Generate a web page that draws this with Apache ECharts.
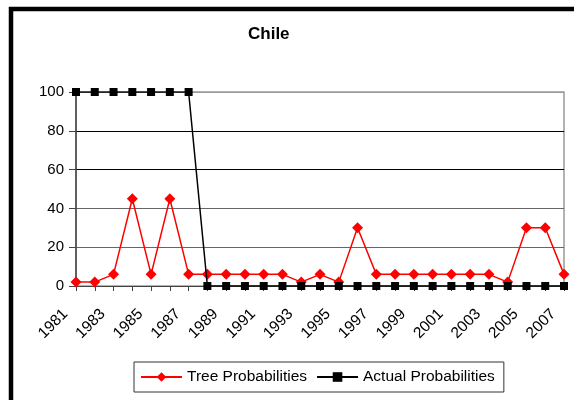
<!DOCTYPE html>
<html>
<head>
<meta charset="utf-8">
<script src="https://cdn.jsdelivr.net/npm/echarts@6/dist/echarts.min.js"></script>
<style>
  html, body { margin: 0; padding: 0; background: #fff; }
  #chart { width: 574px; height: 400px; }
</style>
</head>
<body>
<div id="chart"></div>
<script>
// Years on the horizontal axis
var years = ['1981','1982','1983','1984','1985','1986','1987','1988','1989','1990',
             '1991','1992','1993','1994','1995','1996','1997','1998','1999','2000',
             '2001','2002','2003','2004','2005','2006','2007'];

// Probability estimates from the decision tree
var treeProbabilities = [2, 2, 6, 45, 6, 45, 6, 6, 6, 6,
                         6, 6, 2, 6, 2, 30, 6, 6, 6, 6,
                         6, 6, 6, 2, 30, 30, 6];

// Observed outcome (100 = event, 0 = no event)
var actualProbabilities = [100, 100, 100, 100, 100, 100, 100, 0, 0, 0,
                           0, 0, 0, 0, 0, 0, 0, 0, 0, 0,
                           0, 0, 0, 0, 0, 0, 0];

var yTicks = [0, 20, 40, 60, 80, 100];

var FONT = '"Liberation Sans", Arial, sans-serif';

var chart = echarts.init(document.getElementById('chart'), null, { renderer: 'canvas' });

chart.setOption({
  animation: false,
  backgroundColor: '#fff',
  title: {
    text: 'Chile',
    left: 248,
    top: 26,
    padding: 0,
    textStyle: { fontFamily: FONT, fontSize: 17, fontWeight: 'bold', color: '#000' }
  },
  grid: {
    left: 76,
    right: 10,
    top: 92,
    bottom: 114,
    show: true,
    borderColor: '#999',
    borderWidth: 1.5,
    backgroundColor: 'transparent'
  },
  legend: {
    left: 134,
    top: 362,
    orient: 'horizontal',
    padding: [7, 9, 7, 6],
    itemGap: 9,
    itemWidth: 41,
    itemHeight: 12,
    borderColor: '#333',
    borderWidth: 1,
    textStyle: { fontFamily: FONT, fontSize: 15.5, color: '#000' },
    data: ['Tree Probabilities', 'Actual Probabilities']
  },
  xAxis: {
    type: 'category',
    data: years,
    boundaryGap: false,
    axisLine: { show: true, lineStyle: { color: '#444', width: 1 } },
    axisTick: { show: true, interval: 0, length: 5, lineStyle: { color: '#444' } },
    axisLabel: {
      interval: 1,
      rotate: 45,
      margin: 15,
      padding: [0, 15, 0, 0],
      fontFamily: FONT,
      fontSize: 15.5,
      color: '#000'
    },
    splitLine: { show: false }
  },
  yAxis: {
    type: 'value',
    min: yTicks[0],
    max: yTicks[yTicks.length - 1],
    interval: 20,
    axisLine: { show: true, lineStyle: { color: '#444', width: 1.5 } },
    axisTick: { show: true, length: 7, lineStyle: { color: '#444' } },
    axisLabel: { margin: 12, fontFamily: FONT, fontSize: 15, color: '#000' },
    splitLine: { show: true, lineStyle: { color: ['#000', '#666', '#666', '#000', '#000', '#999'], width: 1 } }
  },
  series: [
    {
      name: 'Tree Probabilities',
      type: 'line',
      data: treeProbabilities,
      symbol: 'diamond',
      symbolSize: 11,
      showAllSymbol: true,
      lineStyle: { color: '#ff0000', width: 1.5 },
      itemStyle: { color: '#ff0000' },
      z: 3
    },
    {
      name: 'Actual Probabilities',
      type: 'line',
      data: actualProbabilities,
      symbol: 'rect',
      symbolSize: 8,
      showAllSymbol: true,
      lineStyle: { color: '#000', width: 1.5 },
      itemStyle: { color: '#000' },
      z: 4
    }
  ],
  graphic: [
    {
      type: 'rect',
      silent: true,
      z: 100,
      shape: { x: 11, y: 9, width: 700, height: 500 },
      style: { fill: 'none', stroke: '#000', lineWidth: 4.5 }
    }
  ]
});
</script>
</body>
</html>
